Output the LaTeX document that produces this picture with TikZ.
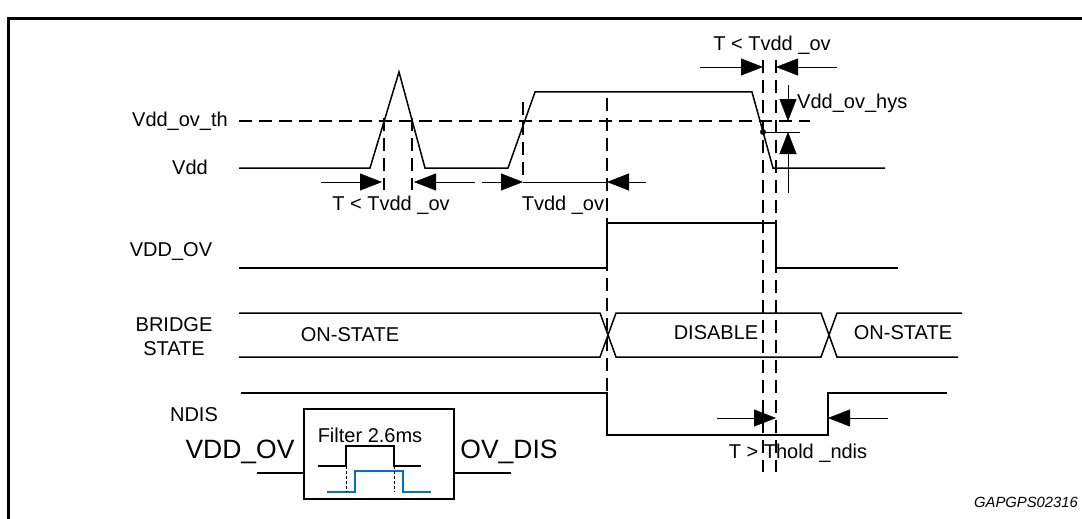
\documentclass[tikz,border=0pt]{standalone}
\usepackage{fontspec}
\setmainfont{Liberation Sans}
\usepackage{xcolor}
\usetikzlibrary{arrows.meta, positioning}
\definecolor{stblue}{RGB}{0,114,198}

\begin{document}
\begin{tikzpicture}[x=1pt, y=-1pt, >={Triangle[length=22pt, width=17pt]},
    sig/.style={line width=1.5pt},
    guide/.style={line width=1.4pt, dash pattern=on 13pt off 7pt},
    lbl/.style={font=\fontsize{20}{24}\selectfont, inner sep=0pt},
    biglbl/.style={font=\fontsize{26.5}{30}\selectfont, inner sep=0pt}]
    \useasboundingbox (0,0) rectangle (1082,519);
    \draw[line width=3pt] (8,519) -- (8,19) -- (1082,19);

    % 1. Vdd et seuil
    \node[lbl, anchor=east] (lth) at (228,121) {Vdd\_ov\_th};
    \node[lbl] (lvdd) at (190,167) {Vdd};
    \draw[guide] (239,121) -- (810,121);
    \draw[sig] (239,168) -- (370,168) -- (399,72) -- (425,168) -- (508,168)
        -- (535,92) -- (752,92) -- (773,168) -- (885,168);

    % 2. Reperes verticaux
    \foreach \x/\ya/\yb in {384/118/190, 412/118/190, 523/102/182,
                            607/98/393, 763/60/472, 776/60/472} {
        \draw[guide] (\x,\ya) -- (\x,\yb);
    }

    % 3. Cotes
    \draw[->] (321,182) -- (382,182);
    \draw[->] (475,182) -- (414,182);
    \draw[->] (482,182) -- (523,182);
    \draw (523,182) -- (607,182);
    \draw[->] (646,182) -- (607,182);
    \node[lbl] (tlt1) at (391,205) {T < Tvdd \_ov};
    \node[lbl] (tvdd) at (563,205) {Tvdd \_ov};

    \draw[->] (700,67) -- (763,67);
    \draw[->] (837,67) -- (776,67);
    \node[lbl] (tlt2) at (772,45) {T < Tvdd \_ov};

    \draw[->] (788,85) -- (788,121);
    \draw[->] (788,193) -- (788,132);
    \draw (763,132) -- (800,132);
    \fill (763,132) circle (3);
    \node[lbl, anchor=west] (hys) at (797,103) {Vdd\_ov\_hys};

    % 4. VDD_OV
    \node[lbl] (lov) at (171,252) {VDD\_OV};
    \draw[sig] (239,268) -- (607,268) -- (607,223) -- (776,223) -- (776,268) -- (898,268);

    % 5. Etat du pont
    \node[lbl, align=center] (lbr) at (174,337) {BRIDGE\\STATE};
    \draw[sig] (239,313) -- (600,313) -- (616,357) -- (821,357) -- (837,313) -- (962,313);
    \draw[sig] (239,357) -- (600,357) -- (616,313) -- (821,313) -- (837,357) -- (958,357);
    \node[lbl] (on1) at (350,335) {ON-STATE};
    \node[lbl] (dis) at (716,333) {DISABLE};
    \node[lbl] (on2) at (903,333) {ON-STATE};

    % 6. NDIS
    \node[lbl] (lndis) at (194,415) {NDIS};
    \draw[sig] (241,393) -- (607,393) -- (607,435) -- (828,435) -- (828,393) -- (947,393);
    \draw[->] (717,418) -- (776,418);
    \draw[->] (888,418) -- (828,418);
    \node[lbl] (thold) at (798,453) {T > Thold \_ndis};

    % 7. Filtre
    \node[draw, line width=1.6pt, minimum width=150pt, minimum height=90pt] (filt) at (379,454) {};
    \coordinate (vin) at (257,473);
    \coordinate (vout) at (511,473);
    \draw[sig] (vin) -- (vin -| filt.west);
    \draw[sig] (filt.east |- vout) -- (vout);
    \node[biglbl] (vddov) at (240,452) {VDD\_OV};
    \node[biglbl] (ovdis) at (509,452) {OV\_DIS};
    \node[lbl] (ftxt) at (370,435) {Filter 2.6ms};
    \draw[line width=1.2pt] (318,466) -- (346,466) -- (346,446) -- (394,446) -- (394,466) -- (421,466);
    \draw[line width=1.4pt, stblue] (327,492) -- (355,492) -- (355,471) -- (403,471) -- (403,492) -- (431,492);
    \draw[densely dashed, thin] (346,466) -- (346,492);
    \draw[densely dashed, thin] (394,466) -- (394,492);

    \node[font=\fontsize{14.8}{17}\selectfont\itshape, inner sep=0pt] (ref) at (1026,502) {GAPGPS02316};
\end{tikzpicture}
\end{document}
